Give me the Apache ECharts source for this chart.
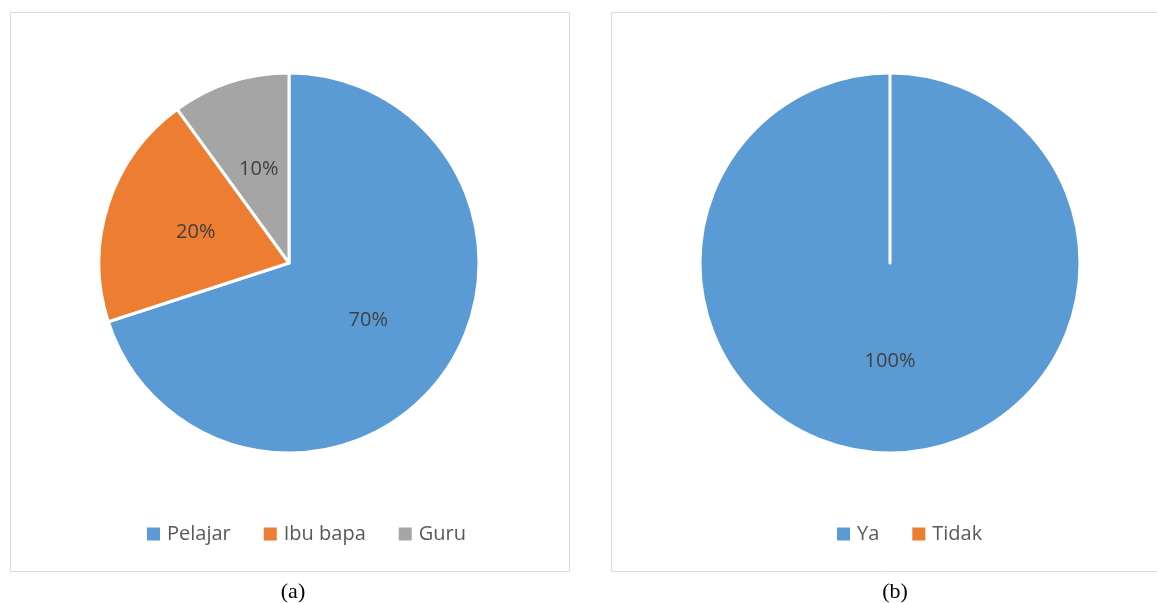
<!DOCTYPE html>
<html>
	<head>
		<meta charset="utf-8" />
		<title>Pie (a) dan (b)</title>
		<script type="text/javascript" src="https://cdn.jsdelivr.net/npm/echarts@6/dist/echarts.min.js"></script>
		<style>
			html, body { margin: 0; padding: 0; background: #fff; }
		</style>
	</head>
	<body>
		<div id="main" style="width: 1157px;height:603px;"></div>
		<script type="text/javascript">
		// data
		var catsA = ['Pelajar', 'Ibu bapa', 'Guru'];
		var valsA = [70, 20, 10];
		var catsB = ['Ya', 'Tidak'];
		var valsB = [100, 0];
		var captions = ['(a)', '(b)'];

		var colorsA = ['#5B9BD5', '#ED7D31', '#A5A5A5'];
		var colorsB = ['#5B9BD5', '#ED7D31'];

		function toData(cats, vals, colors) {
			return cats.map(function (c, i) {
				return {
					name: c,
					value: vals[i],
					itemStyle: { color: colors[i] },
					label: { show: vals[i] > 0 }
				};
			});
		}

		var labelStyle = {
			position: 'inside',
			formatter: '{d}%',
			color: '#404040',
			fontSize: 20,
			fontFamily: 'Open Sans',
			padding: [4, 0, 0, 0]
		};

		var legendBase = {
			orient: 'horizontal',
			top: 519,
			icon: 'rect',
			itemWidth: 13,
			itemHeight: 13,
			itemGap: 33,
			selectedMode: false,
			itemStyle: { borderWidth: 0 },
			textStyle: {
				color: '#595959',
				fontSize: 20,
				fontFamily: 'Open Sans',
				padding: [0, 0, 0, 2]
			}
		};

		var captionStyle = { fontFamily: 'Liberation Serif', fontSize: 22, fontWeight: 'normal', color: '#000' };

		var myChart = echarts.init(document.getElementById('main'));

		var option = {
			animation: false,
			graphic: [
				{ type: 'rect', shape: { x: 10.5, y: 12.5, width: 559, height: 559 },
					style: { fill: 'none', stroke: '#d9d9d9', lineWidth: 1 }, silent: true },
				{ type: 'rect', shape: { x: 611.5, y: 12.5, width: 560, height: 559 },
					style: { fill: 'none', stroke: '#d9d9d9', lineWidth: 1 }, silent: true }
			],
			title: [
				{ text: captions[0], left: 288, top: 576, textAlign: 'center', textStyle: captionStyle },
				{ text: captions[1], left: 890, top: 576, textAlign: 'center', textStyle: captionStyle }
			],
			legend: [
				Object.assign({}, legendBase, { left: 142, data: catsA }),
				Object.assign({}, legendBase, { left: 832, data: catsB })
			],
			series: [
				{
					name: 'a',
					type: 'pie',
					center: [289, 263],
					radius: 190,
					startAngle: 90,
					clockwise: true,
					itemStyle: { borderColor: '#fff', borderWidth: 3 },
					label: labelStyle,
					labelLine: { show: false },
					emphasis: { disabled: true },
					data: toData(catsA, valsA, colorsA)
				},
				{
					name: 'b',
					type: 'pie',
					center: [890, 263],
					radius: 190,
					startAngle: 90,
					clockwise: true,
					minAngle: 0,
					stillShowZeroSum: true,
					itemStyle: { borderColor: '#fff', borderWidth: 3 },
					label: labelStyle,
					labelLine: { show: false },
					emphasis: { disabled: true },
					data: toData(catsB, valsB, colorsB)
				}
			]
		};

		myChart.setOption(option);
		</script>
	</body>
</html>
